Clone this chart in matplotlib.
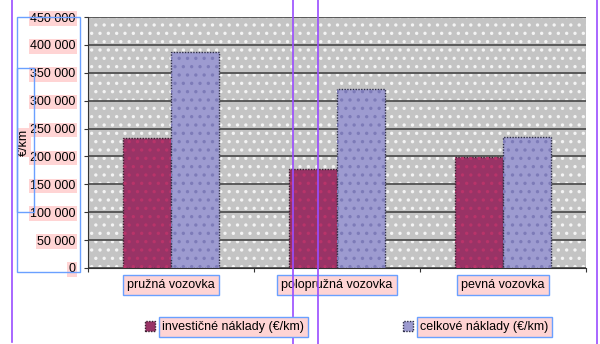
import matplotlib
matplotlib.use("Agg")
import matplotlib.pyplot as plt
import numpy as np
from matplotlib.patches import Rectangle
from matplotlib.lines import Line2D

categories = ["pružná vozovka", "polopružná vozovka", "pevná vozovka"]
investicne = [233000, 177500, 199000]
celkove = [388000, 321000, 235000]
series_labels = ["investičné náklady (€/km)", "celkové náklady (€/km)"]
y_ticks = [0, 50000, 100000, 150000, 200000, 250000, 300000, 350000, 400000, 450000]
y_label = "€/km"

plt.rcParams['font.family'] = ['Liberation Sans', 'DejaVu Sans']
plt.rcParams['hatch.linewidth'] = 1.2

fig = plt.figure(figsize=(6, 3.44), dpi=100)
W, H = 600, 344
ax = fig.add_axes([88 / W, 1 - 268 / H, (586 - 88) / W, (268 - 17) / H])
ax.set_facecolor('#c4c4c4')
# dotted background
ax.add_patch(Rectangle((0, 0), 1, 1, transform=ax.transAxes, facecolor='#c4c4c4',
                       edgecolor='#f4f4f4', hatch='..', linewidth=0, zorder=0))

x = np.arange(len(categories))
bw = 0.29
b1 = ax.bar(x - bw / 2, investicne, bw, color='#993366', edgecolor='#3a2030',
            linewidth=1.0, linestyle=(0, (1, 1)), zorder=3, label=series_labels[0])
b2 = ax.bar(x + bw / 2, celkove, bw, color='#9d9bd0', edgecolor='#2e2e48',
            linewidth=1.0, linestyle=(0, (1, 1)), zorder=3, label=series_labels[1])
for r in b1:
    ax.add_patch(Rectangle(r.get_xy(), r.get_width(), r.get_height(), fill=False,
                           hatch='..', edgecolor='#b8346a', linewidth=0, zorder=3.5))
for r in b2:
    ax.add_patch(Rectangle(r.get_xy(), r.get_width(), r.get_height(), fill=False,
                           hatch='..', edgecolor='#7d7bb8', linewidth=0, zorder=3.5))

ax.set_xlim(-0.5, 2.5)
ax.set_ylim(0, 450000)
ax.set_yticks(y_ticks)
ax.set_yticklabels([f"{v:,}".replace(",", "\u00a0") if v else "0" for v in y_ticks])
ax.yaxis.grid(True, color='#505050', linewidth=1.3, zorder=1)
ax.set_axisbelow(True)
for s in ['top', 'right']:
    ax.spines[s].set_visible(False)
ax.spines['left'].set_color('#333333')
ax.spines['bottom'].set_color('#333333')
ax.spines['bottom'].set_linestyle((0, (1, 1)))
ax.tick_params(axis='y', labelsize=9, length=3, color='#333333', pad=6)
ax.set_xticks([-0.5, 0.5, 1.5, 2.5], minor=False)
ax.set_xticklabels([])
ax.tick_params(axis='x', length=3, color='#333333')
ax.set_xticks(x, minor=True)
ax.set_xticklabels(categories, minor=True)
ax.tick_params(axis='x', which='minor', length=0, labelsize=9, pad=8)
for t in ax.get_xticklabels(minor=True):
    t.set_bbox(dict(facecolor='#ffd4d4', edgecolor='#6aa0ff', boxstyle='square,pad=0.35', linewidth=1))
for t in ax.get_yticklabels():
    t.set_bbox(dict(facecolor='#ffd4d4', edgecolor='none', boxstyle='square,pad=0.1'))

ax.set_ylabel(y_label, fontsize=9,
              bbox=dict(facecolor='#ffd4d4', edgecolor='none', boxstyle='square,pad=0.1'))
ax.yaxis.set_label_coords(-0.116, 0.5)

leg = fig.legend(handles=[b1, b2], labels=series_labels, loc='center',
                 bbox_to_anchor=(0.578, 1 - 327 / H), ncol=2, frameon=False,
                 fontsize=9, columnspacing=7.9, handlelength=0.8, handleheight=0.8,
                 handletextpad=0.6)
for t in leg.get_texts():
    t.set_bbox(dict(facecolor='#ffd4d4', edgecolor='#6aa0ff', boxstyle='square,pad=0.3', linewidth=1))

# editing overlay lines / boxes
def vline(px, y0=0, y1=H):
    fig.add_artist(Line2D([px / W, px / W], [1 - y1 / H, 1 - y0 / H], color='#9a4dff', linewidth=1.2))
vline(12, 0, 342)
vline(293)
vline(318)
vline(597)
def box(x0, y0, x1, y1):
    fig.add_artist(Rectangle((x0 / W, 1 - y1 / H), (x1 - x0) / W, (y1 - y0) / H,
                             fill=False, edgecolor='#6aa0ff', linewidth=1, transform=fig.transFigure))
box(17, 17, 80, 272)
box(17, 68, 34, 212)

fig.savefig("out.png", dpi=100)
